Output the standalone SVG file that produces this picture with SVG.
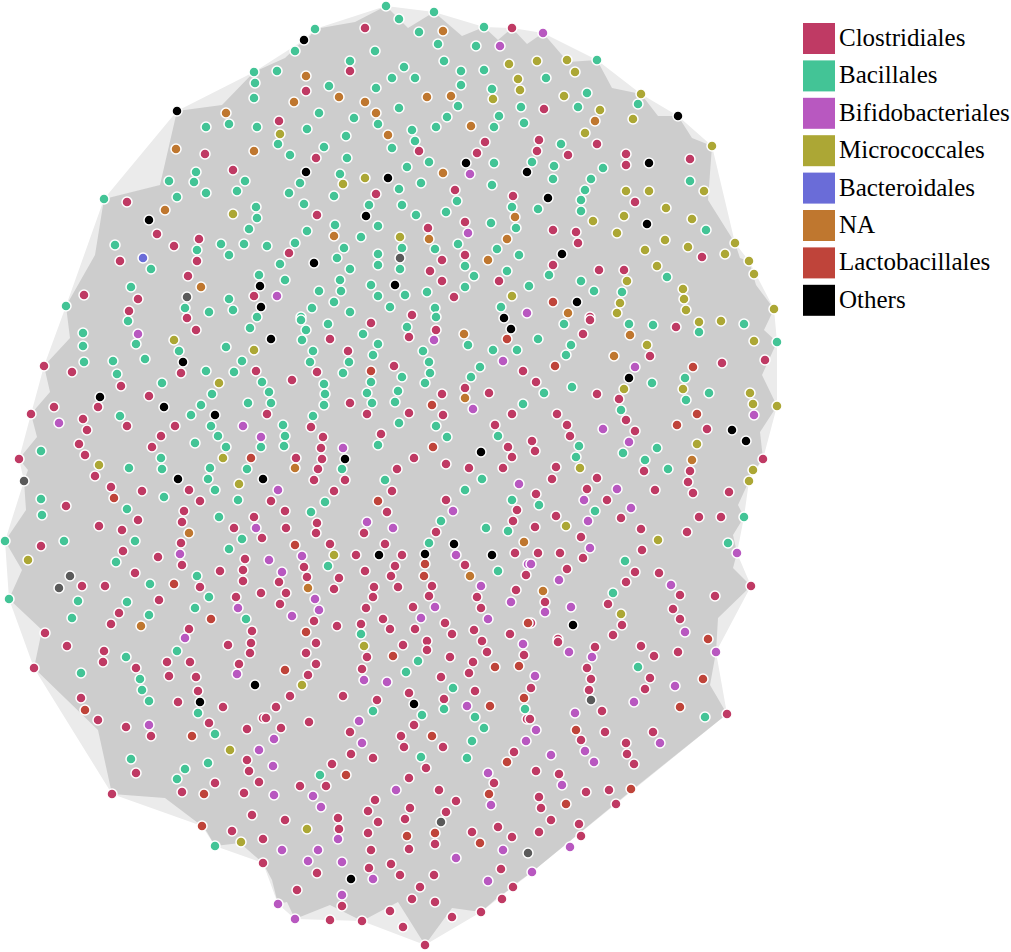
<svg xmlns="http://www.w3.org/2000/svg" width="1011" height="952" viewBox="0 0 1011 952">
<style>
.nd circle{r:5px;stroke:#fff;stroke-width:1.5}
.c{fill:#bf3a64}.g{fill:#43c496}.b{fill:#b858c0}.m{fill:#aca735}.t{fill:#6a6cd8}.n{fill:#bf772f}.l{fill:#bf443a}.k{fill:#000}.x{fill:#5a5a5a}
</style>
<rect width="1011" height="952" fill="#fff"/>
<g id="connectors">
<polygon fill="#ebebeb" points="386,6 434,12 484,27 512,28 543,33 597,60 641,94 678,116 712,146 735,243 749,261 774,309 777,342 777,406 763,459 749,481 744,517 737,553 751,586 716,652 727,714 532,872 513,887 481,912 425,945 362,921 295,919 278,904 263,863 215,846 202,826 112,794 34,668 9,599 5,541 24,481 19,459 31,414 44,366 66,306 104,199 177,111 254,72 304,40 315,29"/>
<polygon fill="#cdcdcd" points="386,6 408,28 434,12 462,36 484,27 498,40 512,28 527,44 543,33 568,62 597,60 612,88 641,94 658,116 678,116 692,138 712,146 708,200 735,243 740,258 749,261 756,285 774,309 764,330 777,342 762,375 777,406 760,432 763,459 748,478 749,481 738,505 744,517 733,535 737,553 733,568 751,586 718,618 716,652 710,685 727,714 632,790 532,872 518,882 513,887 497,898 481,912 452,908 425,945 398,902 362,921 330,905 295,919 287,902 278,904 272,880 263,863 240,843 215,846 207,832 202,826 165,798 112,794 98,730 34,668 42,630 9,599 22,570 5,541 26,510 24,481 28,470 19,459 37,437 31,414 50,392 44,366 70,338 66,306 95,255 104,199 160,185 177,111 222,105 254,72 285,58 304,40 310,36 315,29 355,22"/>
</g>
<g id="nodes" class="nd">
<g id="clostridiales" class="c">
<circle cx="205" cy="154"/><circle cx="233" cy="170"/><circle cx="127" cy="202"/><circle cx="157" cy="234"/><circle cx="199" cy="239"/><circle cx="174" cy="246"/><circle cx="120" cy="261"/><circle cx="197" cy="261"/><circle cx="188" cy="276"/><circle cx="84" cy="295"/><circle cx="138" cy="299"/><circle cx="254" cy="296"/><circle cx="129" cy="311"/><circle cx="187" cy="318"/>
<circle cx="365" cy="28"/><circle cx="512" cy="28"/><circle cx="350" cy="71"/><circle cx="306" cy="91"/><circle cx="279" cy="121"/><circle cx="485" cy="142"/><circle cx="419" cy="151"/><circle cx="477" cy="153"/><circle cx="316" cy="158"/><circle cx="455" cy="190"/><circle cx="376" cy="194"/><circle cx="513" cy="196"/><circle cx="317" cy="215"/><circle cx="465" cy="222"/><circle cx="428" cy="228"/><circle cx="289" cy="253"/><circle cx="442" cy="260"/><circle cx="465" cy="255"/><circle cx="430" cy="271"/><circle cx="442" cy="281"/><circle cx="499" cy="281"/><circle cx="454" cy="297"/><circle cx="412" cy="315"/>
<circle cx="544" cy="109"/><circle cx="539" cy="140"/><circle cx="537" cy="151"/><circle cx="597" cy="144"/><circle cx="568" cy="155"/><circle cx="626" cy="154"/><circle cx="626" cy="165"/><circle cx="690" cy="159"/><circle cx="635" cy="202"/><circle cx="553" cy="230"/><circle cx="576" cy="232"/><circle cx="578" cy="243"/><circle cx="702" cy="257"/><circle cx="553" cy="265"/><circle cx="599" cy="270"/><circle cx="624" cy="270"/><circle cx="590" cy="317"/>
<circle cx="196" cy="330"/><circle cx="181" cy="373"/><circle cx="256" cy="371"/><circle cx="44" cy="366"/><circle cx="72" cy="372"/><circle cx="121" cy="386"/><circle cx="149" cy="396"/><circle cx="54" cy="407"/><circle cx="98" cy="407"/><circle cx="31" cy="414"/><circle cx="83" cy="419"/><circle cx="87" cy="430"/><circle cx="127" cy="426"/><circle cx="175" cy="426"/><circle cx="161" cy="436"/><circle cx="79" cy="444"/><circle cx="152" cy="447"/><circle cx="85" cy="455"/><circle cx="19" cy="459"/><circle cx="95" cy="476"/><circle cx="111" cy="487"/><circle cx="142" cy="491"/><circle cx="189" cy="490"/><circle cx="200" cy="501"/><circle cx="66" cy="506"/><circle cx="184" cy="511"/><circle cx="138" cy="520"/><circle cx="182" cy="522"/><circle cx="254" cy="517"/><circle cx="99" cy="526"/><circle cx="122" cy="530"/><circle cx="234" cy="528"/><circle cx="41" cy="546"/><circle cx="181" cy="543"/><circle cx="262" cy="538"/><circle cx="123" cy="551"/><circle cx="158" cy="557"/><circle cx="245" cy="559"/><circle cx="182" cy="565"/><circle cx="220" cy="571"/><circle cx="243" cy="570"/><circle cx="135" cy="573"/><circle cx="243" cy="581"/><circle cx="82" cy="586"/><circle cx="105" cy="586"/><circle cx="200" cy="587"/><circle cx="159" cy="600"/><circle cx="236" cy="597"/><circle cx="261" cy="593"/><circle cx="119" cy="613"/><circle cx="111" cy="624"/><circle cx="45" cy="633"/><circle cx="189" cy="629"/><circle cx="252" cy="631"/>
<circle cx="330" cy="339"/><circle cx="371" cy="323"/><circle cx="409" cy="337"/><circle cx="436" cy="330"/><circle cx="348" cy="351"/><circle cx="317" cy="372"/><circle cx="394" cy="366"/><circle cx="523" cy="371"/><circle cx="292" cy="380"/><circle cx="465" cy="388"/><circle cx="489" cy="393"/><circle cx="442" cy="394"/><circle cx="350" cy="403"/><circle cx="267" cy="414"/><circle cx="367" cy="414"/><circle cx="409" cy="413"/><circle cx="443" cy="415"/><circle cx="512" cy="414"/><circle cx="311" cy="427"/><circle cx="495" cy="425"/><circle cx="381" cy="434"/><circle cx="323" cy="437"/><circle cx="321" cy="448"/><circle cx="508" cy="447"/><circle cx="296" cy="458"/><circle cx="322" cy="459"/><circle cx="414" cy="458"/><circle cx="446" cy="464"/><circle cx="469" cy="468"/><circle cx="503" cy="468"/><circle cx="512" cy="457"/><circle cx="318" cy="469"/><circle cx="397" cy="469"/><circle cx="314" cy="480"/><circle cx="345" cy="480"/><circle cx="392" cy="491"/><circle cx="334" cy="491"/><circle cx="271" cy="501"/><circle cx="446" cy="500"/><circle cx="285" cy="511"/><circle cx="387" cy="512"/><circle cx="517" cy="510"/><circle cx="317" cy="523"/><circle cx="513" cy="521"/><circle cx="286" cy="528"/><circle cx="316" cy="533"/><circle cx="364" cy="533"/><circle cx="436" cy="532"/><circle cx="330" cy="544"/><circle cx="385" cy="544"/><circle cx="356" cy="555"/><circle cx="402" cy="555"/><circle cx="515" cy="553"/><circle cx="304" cy="567"/><circle cx="395" cy="566"/><circle cx="465" cy="565"/><circle cx="365" cy="571"/><circle cx="307" cy="577"/><circle cx="339" cy="578"/><circle cx="391" cy="576"/><circle cx="526" cy="575"/><circle cx="279" cy="582"/><circle cx="334" cy="589"/><circle cx="374" cy="587"/><circle cx="398" cy="587"/><circle cx="432" cy="586"/><circle cx="516" cy="590"/><circle cx="286" cy="593"/><circle cx="373" cy="597"/><circle cx="429" cy="596"/><circle cx="477" cy="597"/><circle cx="280" cy="604"/><circle cx="366" cy="608"/><circle cx="413" cy="607"/><circle cx="481" cy="608"/><circle cx="314" cy="621"/><circle cx="383" cy="619"/><circle cx="445" cy="623"/><circle cx="337" cy="626"/><circle cx="361" cy="624"/><circle cx="390" cy="629"/><circle cx="415" cy="629"/><circle cx="474" cy="630"/><circle cx="452" cy="634"/><circle cx="510" cy="634"/>
<circle cx="590" cy="320"/><circle cx="676" cy="327"/><circle cx="583" cy="334"/><circle cx="650" cy="356"/><circle cx="765" cy="360"/><circle cx="722" cy="363"/><circle cx="536" cy="382"/><circle cx="597" cy="394"/><circle cx="619" cy="399"/><circle cx="557" cy="414"/><circle cx="626" cy="420"/><circle cx="567" cy="425"/><circle cx="635" cy="431"/><circle cx="707" cy="429"/><circle cx="570" cy="436"/><circle cx="532" cy="441"/><circle cx="535" cy="451"/><circle cx="763" cy="459"/><circle cx="556" cy="467"/><circle cx="644" cy="471"/><circle cx="690" cy="471"/><circle cx="597" cy="478"/><circle cx="552" cy="479"/><circle cx="688" cy="482"/><circle cx="587" cy="489"/><circle cx="655" cy="490"/><circle cx="536" cy="494"/><circle cx="693" cy="493"/><circle cx="729" cy="492"/><circle cx="607" cy="500"/><circle cx="556" cy="516"/><circle cx="621" cy="518"/><circle cx="699" cy="517"/><circle cx="721" cy="517"/><circle cx="535" cy="527"/><circle cx="641" cy="529"/><circle cx="687" cy="532"/><circle cx="581" cy="537"/><circle cx="642" cy="550"/><circle cx="538" cy="553"/><circle cx="560" cy="553"/><circle cx="583" cy="558"/><circle cx="567" cy="569"/><circle cx="635" cy="572"/><circle cx="659" cy="573"/><circle cx="626" cy="582"/><circle cx="751" cy="586"/><circle cx="680" cy="595"/><circle cx="715" cy="596"/><circle cx="545" cy="602"/><circle cx="608" cy="604"/><circle cx="673" cy="609"/><circle cx="680" cy="619"/><circle cx="622" cy="625"/><circle cx="531" cy="623"/><circle cx="613" cy="635"/><circle cx="558" cy="639"/>
<circle cx="67" cy="646"/><circle cx="34" cy="668"/><circle cx="104" cy="651"/><circle cx="103" cy="662"/><circle cx="136" cy="668"/><circle cx="81" cy="698"/><circle cx="98" cy="720"/><circle cx="126" cy="727"/><circle cx="151" cy="736"/><circle cx="167" cy="662"/><circle cx="190" cy="662"/><circle cx="169" cy="676"/><circle cx="196" cy="677"/><circle cx="198" cy="691"/><circle cx="178" cy="702"/><circle cx="209" cy="723"/><circle cx="228" cy="645"/><circle cx="251" cy="643"/><circle cx="250" cy="653"/><circle cx="239" cy="664"/><circle cx="223" cy="707"/><circle cx="263" cy="718"/><circle cx="247" cy="729"/><circle cx="136" cy="773"/><circle cx="112" cy="794"/><circle cx="215" cy="783"/><circle cx="182" cy="792"/><circle cx="247" cy="760"/><circle cx="249" cy="771"/><circle cx="259" cy="782"/><circle cx="244" cy="793"/><circle cx="252" cy="815"/><circle cx="232" cy="831"/><circle cx="263" cy="839"/><circle cx="263" cy="863"/>
<circle cx="316" cy="643"/><circle cx="403" cy="645"/><circle cx="427" cy="641"/><circle cx="482" cy="641"/><circle cx="306" cy="653"/><circle cx="367" cy="657"/><circle cx="427" cy="650"/><circle cx="450" cy="657"/><circle cx="487" cy="652"/><circle cx="524" cy="655"/><circle cx="316" cy="664"/><circle cx="362" cy="669"/><circle cx="473" cy="662"/><circle cx="308" cy="675"/><circle cx="441" cy="677"/><circle cx="469" cy="673"/><circle cx="475" cy="691"/><circle cx="290" cy="696"/><circle cx="343" cy="696"/><circle cx="377" cy="700"/><circle cx="409" cy="693"/><circle cx="444" cy="699"/><circle cx="276" cy="707"/><circle cx="266" cy="718"/><circle cx="527" cy="719"/><circle cx="309" cy="722"/><circle cx="414" cy="725"/><circle cx="281" cy="728"/><circle cx="350" cy="732"/><circle cx="401" cy="736"/><circle cx="404" cy="747"/><circle cx="443" cy="747"/><circle cx="351" cy="754"/><circle cx="373" cy="758"/><circle cx="514" cy="752"/><circle cx="426" cy="768"/><circle cx="332" cy="764"/><circle cx="409" cy="778"/><circle cx="300" cy="786"/><circle cx="326" cy="786"/><circle cx="439" cy="790"/><circle cx="494" cy="783"/><circle cx="375" cy="800"/><circle cx="456" cy="801"/><circle cx="410" cy="808"/><circle cx="368" cy="811"/><circle cx="446" cy="812"/><circle cx="285" cy="820"/><circle cx="338" cy="818"/><circle cx="378" cy="822"/><circle cx="405" cy="819"/><circle cx="339" cy="829"/><circle cx="498" cy="827"/><circle cx="368" cy="833"/><circle cx="472" cy="832"/><circle cx="512" cy="837"/><circle cx="371" cy="850"/><circle cx="409" cy="849"/><circle cx="435" cy="844"/><circle cx="369" cy="868"/><circle cx="391" cy="864"/><circle cx="317" cy="873"/><circle cx="400" cy="875"/><circle cx="434" cy="875"/><circle cx="501" cy="869"/><circle cx="420" cy="887"/><circle cx="513" cy="887"/><circle cx="297" cy="890"/><circle cx="412" cy="899"/><circle cx="435" cy="902"/><circle cx="502" cy="899"/><circle cx="342" cy="906"/><circle cx="330" cy="920"/><circle cx="362" cy="921"/><circle cx="390" cy="911"/><circle cx="452" cy="917"/><circle cx="481" cy="912"/><circle cx="403" cy="927"/><circle cx="425" cy="945"/>
<circle cx="558" cy="642"/><circle cx="595" cy="647"/><circle cx="641" cy="646"/><circle cx="654" cy="656"/><circle cx="678" cy="652"/><circle cx="587" cy="668"/><circle cx="591" cy="679"/><circle cx="650" cy="678"/><circle cx="531" cy="688"/><circle cx="589" cy="690"/><circle cx="645" cy="689"/><circle cx="602" cy="711"/><circle cx="727" cy="714"/><circle cx="530" cy="719"/><circle cx="605" cy="732"/><circle cx="653" cy="732"/><circle cx="581" cy="740"/><circle cx="626" cy="743"/><circle cx="627" cy="754"/><circle cx="634" cy="764"/><circle cx="536" cy="771"/><circle cx="559" cy="774"/><circle cx="586" cy="792"/><circle cx="609" cy="790"/><circle cx="539" cy="797"/><circle cx="616" cy="804"/><circle cx="541" cy="808"/><circle cx="551" cy="820"/><circle cx="579" cy="824"/><circle cx="581" cy="836"/><circle cx="539" cy="832"/>
</g>
<g id="bacillales" class="g">
<circle cx="254" cy="72"/><circle cx="255" cy="83"/><circle cx="254" cy="98"/><circle cx="229" cy="124"/><circle cx="206" cy="127"/><circle cx="257" cy="127"/><circle cx="196" cy="172"/><circle cx="245" cy="181"/><circle cx="169" cy="181"/><circle cx="194" cy="182"/><circle cx="237" cy="191"/><circle cx="206" cy="193"/><circle cx="177" cy="197"/><circle cx="104" cy="199"/><circle cx="256" cy="207"/><circle cx="257" cy="218"/><circle cx="249" cy="229"/><circle cx="221" cy="244"/><circle cx="244" cy="244"/><circle cx="115" cy="245"/><circle cx="197" cy="250"/><circle cx="229" cy="255"/><circle cx="151" cy="269"/><circle cx="259" cy="275"/><circle cx="131" cy="287"/><circle cx="229" cy="299"/><circle cx="66" cy="306"/><circle cx="185" cy="308"/><circle cx="233" cy="310"/><circle cx="209" cy="312"/><circle cx="257" cy="317"/><circle cx="128" cy="321"/>
<circle cx="386" cy="6"/><circle cx="434" cy="12"/><circle cx="399" cy="19"/><circle cx="315" cy="29"/><circle cx="484" cy="27"/><circle cx="419" cy="32"/><circle cx="295" cy="51"/><circle cx="375" cy="51"/><circle cx="438" cy="44"/><circle cx="476" cy="46"/><circle cx="350" cy="61"/><circle cx="444" cy="61"/><circle cx="277" cy="71"/><circle cx="404" cy="67"/><circle cx="461" cy="71"/><circle cx="484" cy="70"/><circle cx="392" cy="78"/><circle cx="415" cy="78"/><circle cx="461" cy="85"/><circle cx="492" cy="89"/><circle cx="329" cy="86"/><circle cx="376" cy="88"/><circle cx="458" cy="106"/><circle cx="399" cy="108"/><circle cx="521" cy="107"/><circle cx="319" cy="113"/><circle cx="447" cy="117"/><circle cx="499" cy="116"/><circle cx="354" cy="118"/><circle cx="378" cy="124"/><circle cx="412" cy="130"/><circle cx="436" cy="127"/><circle cx="494" cy="127"/><circle cx="524" cy="123"/><circle cx="307" cy="129"/><circle cx="346" cy="136"/><circle cx="278" cy="144"/><circle cx="324" cy="147"/><circle cx="415" cy="141"/><circle cx="392" cy="148"/><circle cx="290" cy="155"/><circle cx="347" cy="158"/><circle cx="429" cy="162"/><circle cx="494" cy="163"/><circle cx="340" cy="174"/><circle cx="407" cy="167"/><circle cx="300" cy="183"/><circle cx="421" cy="183"/><circle cx="492" cy="185"/><circle cx="289" cy="193"/><circle cx="334" cy="196"/><circle cx="399" cy="189"/><circle cx="304" cy="204"/><circle cx="369" cy="205"/><circle cx="402" cy="205"/><circle cx="457" cy="201"/><circle cx="416" cy="215"/><circle cx="446" cy="212"/><circle cx="512" cy="207"/><circle cx="335" cy="225"/><circle cx="378" cy="226"/><circle cx="491" cy="223"/><circle cx="516" cy="228"/><circle cx="307" cy="231"/><circle cx="361" cy="237"/><circle cx="267" cy="246"/><circle cx="295" cy="243"/><circle cx="344" cy="248"/><circle cx="402" cy="248"/><circle cx="435" cy="249"/><circle cx="458" cy="244"/><circle cx="497" cy="249"/><circle cx="519" cy="255"/><circle cx="337" cy="258"/><circle cx="378" cy="254"/><circle cx="280" cy="264"/><circle cx="350" cy="269"/><circle cx="378" cy="265"/><circle cx="400" cy="269"/><circle cx="465" cy="266"/><circle cx="507" cy="271"/><circle cx="285" cy="280"/><circle cx="340" cy="280"/><circle cx="474" cy="276"/><circle cx="529" cy="286"/><circle cx="319" cy="291"/><circle cx="341" cy="291"/><circle cx="371" cy="285"/><circle cx="378" cy="296"/><circle cx="405" cy="295"/><circle cx="427" cy="292"/><circle cx="465" cy="287"/><circle cx="334" cy="302"/><circle cx="312" cy="308"/><circle cx="350" cy="312"/><circle cx="390" cy="307"/><circle cx="435" cy="308"/><circle cx="501" cy="307"/><circle cx="301" cy="317"/><circle cx="436" cy="317"/>
<circle cx="597" cy="60"/><circle cx="546" cy="78"/><circle cx="587" cy="93"/><circle cx="638" cy="104"/><circle cx="578" cy="107"/><circle cx="561" cy="144"/><circle cx="532" cy="162"/><circle cx="554" cy="166"/><circle cx="603" cy="168"/><circle cx="553" cy="179"/><circle cx="591" cy="179"/><circle cx="690" cy="181"/><circle cx="585" cy="190"/><circle cx="581" cy="200"/><circle cx="538" cy="209"/><circle cx="581" cy="211"/><circle cx="706" cy="230"/><circle cx="549" cy="275"/><circle cx="667" cy="277"/><circle cx="581" cy="281"/><circle cx="594" cy="291"/><circle cx="622" cy="292"/>
<circle cx="250" cy="328"/><circle cx="83" cy="333"/><circle cx="83" cy="346"/><circle cx="136" cy="344"/><circle cx="226" cy="347"/><circle cx="179" cy="351"/><circle cx="84" cy="362"/><circle cx="113" cy="361"/><circle cx="145" cy="359"/><circle cx="242" cy="361"/><circle cx="206" cy="371"/><circle cx="234" cy="372"/><circle cx="117" cy="374"/><circle cx="162" cy="383"/><circle cx="262" cy="382"/><circle cx="212" cy="394"/><circle cx="201" cy="405"/><circle cx="248" cy="403"/><circle cx="120" cy="416"/><circle cx="191" cy="415"/><circle cx="211" cy="426"/><circle cx="218" cy="436"/><circle cx="195" cy="443"/><circle cx="226" cy="447"/><circle cx="261" cy="447"/><circle cx="41" cy="451"/><circle cx="161" cy="458"/><circle cx="129" cy="468"/><circle cx="162" cy="469"/><circle cx="210" cy="468"/><circle cx="247" cy="469"/><circle cx="208" cy="479"/><circle cx="215" cy="490"/><circle cx="41" cy="499"/><circle cx="164" cy="497"/><circle cx="238" cy="500"/><circle cx="127" cy="509"/><circle cx="42" cy="515"/><circle cx="219" cy="517"/><circle cx="5" cy="541"/><circle cx="64" cy="541"/><circle cx="135" cy="541"/><circle cx="242" cy="539"/><circle cx="229" cy="549"/><circle cx="116" cy="562"/><circle cx="197" cy="576"/><circle cx="150" cy="584"/><circle cx="9" cy="599"/><circle cx="78" cy="601"/><circle cx="209" cy="597"/><circle cx="127" cy="602"/><circle cx="149" cy="615"/><circle cx="195" cy="608"/><circle cx="72" cy="618"/><circle cx="246" cy="619"/>
<circle cx="301" cy="320"/><circle cx="306" cy="330"/><circle cx="302" cy="340"/><circle cx="328" cy="324"/><circle cx="363" cy="334"/><circle cx="407" cy="327"/><circle cx="468" cy="345"/><circle cx="493" cy="350"/><circle cx="517" cy="350"/><circle cx="313" cy="351"/><circle cx="378" cy="344"/><circle cx="373" cy="355"/><circle cx="423" cy="351"/><circle cx="310" cy="362"/><circle cx="349" cy="362"/><circle cx="429" cy="362"/><circle cx="430" cy="373"/><circle cx="480" cy="367"/><circle cx="343" cy="373"/><circle cx="324" cy="384"/><circle cx="371" cy="382"/><circle cx="402" cy="377"/><circle cx="471" cy="377"/><circle cx="425" cy="383"/><circle cx="269" cy="392"/><circle cx="325" cy="394"/><circle cx="367" cy="393"/><circle cx="398" cy="391"/><circle cx="271" cy="403"/><circle cx="324" cy="405"/><circle cx="372" cy="403"/><circle cx="395" cy="402"/><circle cx="523" cy="404"/><circle cx="313" cy="416"/><circle cx="399" cy="423"/><circle cx="436" cy="426"/><circle cx="283" cy="425"/><circle cx="447" cy="437"/><circle cx="285" cy="436"/><circle cx="498" cy="436"/><circle cx="284" cy="446"/><circle cx="378" cy="445"/><circle cx="342" cy="469"/><circle cx="385" cy="480"/><circle cx="482" cy="479"/><circle cx="465" cy="490"/><circle cx="325" cy="502"/><circle cx="512" cy="500"/><circle cx="311" cy="512"/><circle cx="441" cy="521"/><circle cx="486" cy="528"/><circle cx="508" cy="531"/><circle cx="429" cy="543"/><circle cx="328" cy="566"/><circle cx="498" cy="571"/><circle cx="361" cy="634"/>
<circle cx="564" cy="324"/><circle cx="629" cy="324"/><circle cx="653" cy="325"/><circle cx="744" cy="324"/><circle cx="699" cy="332"/><circle cx="538" cy="339"/><circle cx="571" cy="345"/><circle cx="777" cy="342"/><circle cx="566" cy="355"/><circle cx="685" cy="378"/><circle cx="652" cy="383"/><circle cx="572" cy="387"/><circle cx="544" cy="393"/><circle cx="709" cy="393"/><circle cx="686" cy="400"/><circle cx="621" cy="410"/><circle cx="579" cy="446"/><circle cx="657" cy="448"/><circle cx="576" cy="457"/><circle cx="623" cy="453"/><circle cx="645" cy="460"/><circle cx="668" cy="469"/><circle cx="539" cy="505"/><circle cx="595" cy="511"/><circle cx="744" cy="517"/><circle cx="728" cy="543"/><circle cx="625" cy="561"/><circle cx="613" cy="593"/>
<circle cx="126" cy="657"/><circle cx="81" cy="673"/><circle cx="140" cy="679"/><circle cx="142" cy="690"/><circle cx="149" cy="701"/><circle cx="177" cy="651"/><circle cx="198" cy="713"/><circle cx="215" cy="734"/><circle cx="131" cy="759"/><circle cx="185" cy="769"/><circle cx="177" cy="779"/><circle cx="208" cy="763"/><circle cx="215" cy="846"/>
<circle cx="418" cy="661"/><circle cx="406" cy="672"/><circle cx="453" cy="688"/><circle cx="373" cy="711"/><circle cx="422" cy="715"/><circle cx="444" cy="709"/><circle cx="525" cy="709"/><circle cx="475" cy="717"/><circle cx="484" cy="728"/><circle cx="472" cy="741"/><circle cx="421" cy="757"/><circle cx="467" cy="758"/><circle cx="320" cy="775"/><circle cx="638" cy="667"/><circle cx="705" cy="717"/>
</g>
<g id="bifidobacteriales" class="b">
<circle cx="500" cy="46"/><circle cx="470" cy="174"/><circle cx="468" cy="233"/><circle cx="277" cy="296"/><circle cx="527" cy="313"/><circle cx="543" cy="33"/>
<circle cx="138" cy="334"/><circle cx="59" cy="423"/><circle cx="243" cy="426"/><circle cx="261" cy="437"/><circle cx="256" cy="528"/><circle cx="180" cy="554"/><circle cx="238" cy="608"/><circle cx="185" cy="638"/>
<circle cx="434" cy="340"/><circle cx="503" cy="361"/><circle cx="473" cy="409"/><circle cx="343" cy="448"/><circle cx="519" cy="484"/><circle cx="278" cy="490"/><circle cx="453" cy="511"/><circle cx="367" cy="522"/><circle cx="393" cy="528"/><circle cx="456" cy="555"/><circle cx="269" cy="560"/><circle cx="302" cy="556"/><circle cx="528" cy="564"/><circle cx="282" cy="572"/><circle cx="481" cy="586"/><circle cx="315" cy="599"/><circle cx="511" cy="602"/><circle cx="319" cy="610"/><circle cx="435" cy="607"/><circle cx="292" cy="616"/><circle cx="421" cy="618"/><circle cx="488" cy="619"/>
<circle cx="635" cy="367"/><circle cx="754" cy="415"/><circle cx="603" cy="429"/><circle cx="629" cy="442"/><circle cx="617" cy="489"/><circle cx="584" cy="500"/><circle cx="631" cy="508"/><circle cx="588" cy="521"/><circle cx="590" cy="548"/><circle cx="737" cy="553"/><circle cx="531" cy="564"/><circle cx="559" cy="580"/><circle cx="671" cy="585"/><circle cx="545" cy="612"/><circle cx="571" cy="607"/><circle cx="685" cy="632"/>
<circle cx="237" cy="674"/><circle cx="149" cy="725"/><circle cx="259" cy="750"/>
<circle cx="523" cy="644"/><circle cx="364" cy="680"/><circle cx="387" cy="682"/><circle cx="467" cy="706"/><circle cx="359" cy="721"/><circle cx="274" cy="739"/><circle cx="362" cy="743"/><circle cx="526" cy="741"/><circle cx="273" cy="766"/><circle cx="488" cy="773"/><circle cx="396" cy="790"/><circle cx="274" cy="795"/><circle cx="313" cy="796"/><circle cx="321" cy="807"/><circle cx="491" cy="805"/><circle cx="338" cy="839"/><circle cx="282" cy="850"/><circle cx="318" cy="850"/><circle cx="503" cy="850"/><circle cx="308" cy="861"/><circle cx="342" cy="862"/><circle cx="456" cy="858"/><circle cx="373" cy="879"/><circle cx="488" cy="881"/><circle cx="342" cy="895"/><circle cx="278" cy="904"/><circle cx="295" cy="919"/>
<circle cx="569" cy="652"/><circle cx="592" cy="657"/><circle cx="716" cy="652"/><circle cx="535" cy="676"/><circle cx="675" cy="686"/><circle cx="634" cy="702"/><circle cx="575" cy="713"/><circle cx="536" cy="730"/><circle cx="660" cy="743"/><circle cx="585" cy="751"/><circle cx="551" cy="755"/><circle cx="594" cy="762"/><circle cx="562" cy="785"/><circle cx="570" cy="847"/><circle cx="532" cy="872"/>
</g>
<g id="micrococcales" class="m">
<circle cx="233" cy="214"/><circle cx="509" cy="64"/><circle cx="518" cy="79"/><circle cx="520" cy="90"/><circle cx="493" cy="99"/><circle cx="280" cy="134"/><circle cx="343" cy="184"/><circle cx="365" cy="178"/><circle cx="400" cy="237"/><circle cx="512" cy="296"/>
<circle cx="537" cy="61"/><circle cx="567" cy="60"/><circle cx="575" cy="72"/><circle cx="564" cy="96"/><circle cx="641" cy="94"/><circle cx="600" cy="110"/><circle cx="633" cy="119"/><circle cx="585" cy="133"/><circle cx="712" cy="146"/><circle cx="626" cy="191"/><circle cx="649" cy="191"/><circle cx="704" cy="191"/><circle cx="666" cy="208"/><circle cx="624" cy="216"/><circle cx="692" cy="219"/><circle cx="593" cy="221"/><circle cx="617" cy="233"/><circle cx="665" cy="240"/><circle cx="735" cy="243"/><circle cx="645" cy="250"/><circle cx="688" cy="247"/><circle cx="725" cy="254"/><circle cx="657" cy="266"/><circle cx="749" cy="261"/><circle cx="754" cy="274"/><circle cx="627" cy="281"/><circle cx="683" cy="289"/><circle cx="684" cy="299"/><circle cx="686" cy="310"/><circle cx="620" cy="303"/><circle cx="617" cy="313"/><circle cx="774" cy="309"/>
<circle cx="174" cy="340"/><circle cx="254" cy="350"/><circle cx="219" cy="383"/><circle cx="223" cy="458"/><circle cx="99" cy="465"/><circle cx="239" cy="484"/><circle cx="28" cy="560"/><circle cx="334" cy="555"/>
<circle cx="699" cy="322"/><circle cx="721" cy="321"/><circle cx="647" cy="345"/><circle cx="754" cy="341"/><circle cx="624" cy="389"/><circle cx="683" cy="389"/><circle cx="750" cy="393"/><circle cx="753" cy="404"/><circle cx="777" cy="406"/><circle cx="697" cy="444"/><circle cx="580" cy="468"/><circle cx="753" cy="470"/><circle cx="749" cy="481"/><circle cx="566" cy="526"/><circle cx="658" cy="540"/><circle cx="621" cy="614"/>
<circle cx="230" cy="750"/><circle cx="241" cy="842"/><circle cx="364" cy="646"/><circle cx="302" cy="685"/><circle cx="307" cy="829"/>
</g>
<g id="bacteroidales" class="t"><circle cx="143" cy="258"/></g>
<g id="na" class="n">
<circle cx="226" cy="113"/><circle cx="176" cy="149"/><circle cx="254" cy="151"/><circle cx="165" cy="210"/><circle cx="201" cy="287"/>
<circle cx="443" cy="31"/><circle cx="306" cy="76"/><circle cx="294" cy="102"/><circle cx="339" cy="97"/><circle cx="365" cy="102"/><circle cx="427" cy="97"/><circle cx="451" cy="96"/><circle cx="376" cy="113"/><circle cx="471" cy="126"/><circle cx="388" cy="135"/><circle cx="443" cy="173"/><circle cx="515" cy="217"/><circle cx="334" cy="236"/><circle cx="429" cy="239"/><circle cx="507" cy="239"/><circle cx="488" cy="260"/>
<circle cx="595" cy="121"/><circle cx="568" cy="313"/><circle cx="189" cy="533"/><circle cx="141" cy="626"/>
<circle cx="464" cy="334"/><circle cx="465" cy="398"/><circle cx="295" cy="468"/><circle cx="524" cy="542"/><circle cx="470" cy="576"/><circle cx="308" cy="588"/>
<circle cx="630" cy="335"/><circle cx="614" cy="356"/><circle cx="692" cy="460"/><circle cx="543" cy="591"/>
</g>
<g id="lactobacillales" class="l">
<circle cx="553" cy="302"/><circle cx="251" cy="458"/><circle cx="114" cy="498"/><circle cx="174" cy="584"/><circle cx="211" cy="619"/>
<circle cx="507" cy="339"/><circle cx="371" cy="371"/><circle cx="432" cy="405"/><circle cx="433" cy="447"/><circle cx="378" cy="501"/><circle cx="295" cy="545"/><circle cx="425" cy="564"/><circle cx="424" cy="576"/><circle cx="306" cy="632"/><circle cx="528" cy="623"/>
<circle cx="555" cy="366"/><circle cx="693" cy="367"/><circle cx="697" cy="414"/><circle cx="677" cy="425"/><circle cx="708" cy="639"/>
<circle cx="85" cy="710"/><circle cx="192" cy="736"/><circle cx="204" cy="794"/><circle cx="202" cy="826"/>
<circle cx="393" cy="656"/><circle cx="285" cy="670"/><circle cx="495" cy="667"/><circle cx="519" cy="666"/><circle cx="524" cy="698"/><circle cx="490" cy="706"/><circle cx="432" cy="736"/><circle cx="507" cy="762"/><circle cx="346" cy="775"/><circle cx="489" cy="794"/><circle cx="407" cy="836"/><circle cx="435" cy="833"/><circle cx="480" cy="843"/>
<circle cx="703" cy="679"/><circle cx="680" cy="707"/><circle cx="576" cy="730"/><circle cx="631" cy="789"/><circle cx="566" cy="804"/>
</g>
<g id="others" class="k">
<circle cx="177" cy="111"/><circle cx="149" cy="220"/><circle cx="260" cy="286"/><circle cx="261" cy="307"/>
<circle cx="304" cy="40"/><circle cx="466" cy="163"/><circle cx="527" cy="172"/><circle cx="306" cy="172"/><circle cx="388" cy="178"/><circle cx="366" cy="216"/><circle cx="314" cy="263"/><circle cx="395" cy="285"/><circle cx="504" cy="318"/>
<circle cx="678" cy="116"/><circle cx="649" cy="163"/><circle cx="548" cy="198"/><circle cx="647" cy="224"/><circle cx="562" cy="254"/><circle cx="577" cy="302"/>
<circle cx="183" cy="362"/><circle cx="100" cy="397"/><circle cx="164" cy="407"/><circle cx="215" cy="415"/><circle cx="178" cy="479"/><circle cx="263" cy="479"/>
<circle cx="271" cy="339"/><circle cx="511" cy="329"/><circle cx="345" cy="459"/><circle cx="481" cy="452"/><circle cx="454" cy="544"/><circle cx="379" cy="555"/><circle cx="425" cy="554"/><circle cx="492" cy="555"/>
<circle cx="629" cy="378"/><circle cx="732" cy="430"/><circle cx="746" cy="441"/><circle cx="573" cy="625"/>
<circle cx="200" cy="702"/><circle cx="255" cy="685"/><circle cx="414" cy="704"/><circle cx="351" cy="879"/>
</g>
<g id="unlabelled" class="x">
<circle cx="187" cy="297"/><circle cx="400" cy="258"/><circle cx="24" cy="481"/><circle cx="70" cy="576"/><circle cx="59" cy="588"/><circle cx="441" cy="822"/><circle cx="528" cy="853"/><circle cx="591" cy="700"/>
</g>
</g>
<g id="legend" font-family="Liberation Serif, DejaVu Serif, serif" font-size="25" fill="#000">
<rect x="803" y="23" width="32" height="31" class="c"/><text x="839" y="46">Clostridiales</text>
<rect x="803" y="60.4" width="32" height="31" class="g"/><text x="839" y="83.4">Bacillales</text>
<rect x="803" y="97.8" width="32" height="31" class="b"/><text x="839" y="120.8">Bifidobacteriales</text>
<rect x="803" y="135.2" width="32" height="31" class="m"/><text x="839" y="158.2">Micrococcales</text>
<rect x="803" y="172.6" width="32" height="31" class="t"/><text x="839" y="195.6">Bacteroidales</text>
<rect x="803" y="210" width="32" height="31" class="n"/><text x="839" y="233">NA</text>
<rect x="803" y="247.4" width="32" height="31" class="l"/><text x="839" y="270.4">Lactobacillales</text>
<rect x="803" y="284.8" width="32" height="31" class="k"/><text x="839" y="307.8">Others</text>
</g>
</svg>
